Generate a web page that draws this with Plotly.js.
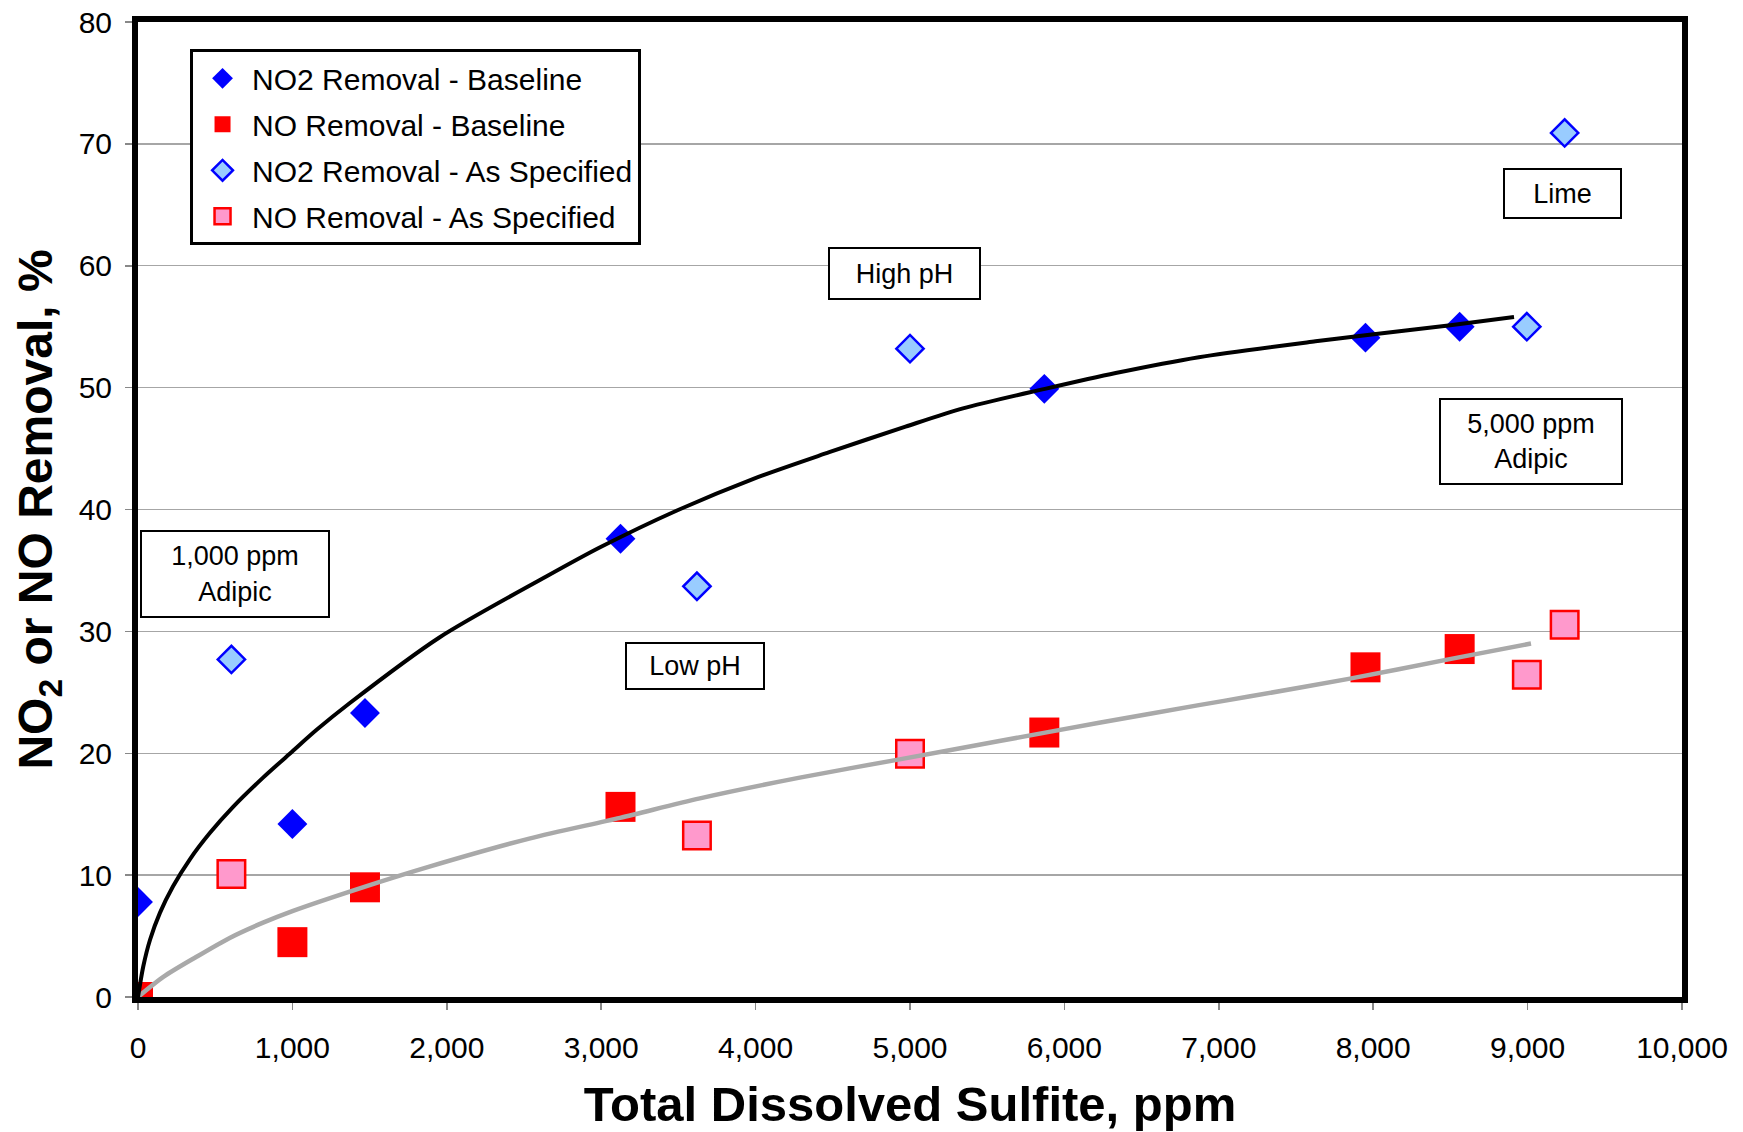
<!DOCTYPE html>
<html>
<head>
<meta charset="utf-8">
<script src="https://cdn.plot.ly/plotly-3.0.1.min.js"></script>
<style>
  html, body { margin: 0; padding: 0; background: #ffffff; }
  #chart { width: 1743px; height: 1132px; }
</style>
</head>
<body>
<div id="chart"></div>
<script>
// ---- Data ----
const baselineX = [0, 1000, 1470, 3125, 5870, 7950, 8560];
const no2BaselineY = [7.8, 14.2, 23.3, 37.6, 49.9, 54.1, 55.0];
const noBaselineY = [0, 4.5, 9.0, 15.6, 21.7, 27.05, 28.55];

const specifiedX = [605, 3620, 5000, 8995, 9240];
const no2SpecifiedY = [27.7, 33.7, 53.2, 55.0, 70.9];
const noSpecifiedY = [10.1, 13.25, 19.95, 26.45, 30.55];

// trend line (NO2, baseline)
const no2TrendX = [0, 34, 78, 142, 228, 336, 465, 616, 810, 1004, 1155, 1370, 1952, 2644, 2993, 3487, 3982, 4477, 4971, 5343, 5874, 6332, 6871, 7626, 7949, 8487, 8912];
const no2TrendY = [0, 2.5, 4.7, 6.9, 9.1, 11.3, 13.45, 15.6, 18.0, 20.2, 21.9, 24.1, 29.5, 34.5, 36.9, 39.9, 42.5, 44.7, 46.8, 48.3, 49.9, 51.2, 52.5, 53.8, 54.3, 55.1, 55.8];

// trend line (NO, baseline)
const noTrendX = [0, 164, 379, 594, 810, 1000, 1456, 1887, 2534, 3122, 3639, 4286, 4932, 5579, 6225, 6871, 7195, 7841, 8487, 9022];
const noTrendY = [0, 1.65, 3.3, 4.85, 6.1, 7.05, 9.0, 10.7, 13.0, 14.7, 16.3, 18.0, 19.5, 21.0, 22.5, 23.95, 24.65, 26.1, 27.7, 29.0];

const seriesNames = ["NO2 Removal - Baseline", "NO Removal - Baseline", "NO2 Removal - As Specified", "NO Removal - As Specified"];

const xTickVals = [0, 1000, 2000, 3000, 4000, 5000, 6000, 7000, 8000, 9000, 10000];
const xTickText = ["0", "1,000", "2,000", "3,000", "4,000", "5,000", "6,000", "7,000", "8,000", "9,000", "10,000"];
const yTickVals = [0, 10, 20, 30, 40, 50, 60, 70, 80];

const boxLabels = ["1,000 ppm<br>Adipic", "Low pH", "High pH", "Lime", "5,000 ppm<br>Adipic"];

// ---- Traces ----
const traces = [
  {
    x: baselineX, y: no2BaselineY, type: "scatter", mode: "markers",
    name: seriesNames[0], legendgroup: "g1",
    marker: { symbol: "diamond", size: 23, color: "#0000ff", line: { width: 0 } }
  },
  {
    x: baselineX, y: noBaselineY, type: "scatter", mode: "markers",
    name: seriesNames[1], legendgroup: "g2",
    marker: { symbol: "square", size: 30, color: "#ff0000", line: { width: 0 } }
  },
  {
    x: specifiedX, y: no2SpecifiedY, type: "scatter", mode: "markers",
    name: seriesNames[2], legendgroup: "g3",
    marker: { symbol: "diamond", size: 21, color: "#99ccff", line: { width: 2.5, color: "#0000ff" } }
  },
  {
    x: specifiedX, y: noSpecifiedY, type: "scatter", mode: "markers",
    name: seriesNames[3], legendgroup: "g4",
    marker: { symbol: "square", size: 27.5, color: "#ff99cc", line: { width: 2.5, color: "#ff0000" } }
  },
  {
    x: noTrendX, y: noTrendY, type: "scatter", mode: "lines",
    showlegend: false, hoverinfo: "skip",
    line: { color: "#a9a9a9", width: 4.5, shape: "spline", smoothing: 0.8 }
  },
  {
    x: no2TrendX, y: no2TrendY, type: "scatter", mode: "lines",
    showlegend: false, hoverinfo: "skip",
    line: { color: "#000000", width: 4, shape: "spline", smoothing: 0.8 }
  }
];

const boxFont = { family: "Liberation Sans, Arial, sans-serif", size: 27, color: "#000000" };
function box(text, x, y, w, h) {
  return {
    text: text, x: x, y: y, xref: "x", yref: "y",
    showarrow: false, xanchor: "center", yanchor: "middle",
    width: w, height: h, align: "center", valign: "middle",
    bgcolor: "#ffffff", bordercolor: "#000000", borderwidth: 2, borderpad: 0,
    font: boxFont
  };
}

const layout = {
  width: 1743, height: 1132,
  margin: { l: 138, r: 61, t: 22, b: 135, pad: 0 },
  paper_bgcolor: "#ffffff", plot_bgcolor: "#ffffff",
  font: { family: "Liberation Sans, Arial, sans-serif", size: 30, color: "#000000" },
  showlegend: true,
  legend: {
    x: 0.0337, y: 0.972, xanchor: "left", yanchor: "top",
    bgcolor: "#ffffff", bordercolor: "#000000", borderwidth: 3,
    font: { family: "Liberation Sans, Arial, sans-serif", size: 30, color: "#000000" },
    traceorder: "grouped", tracegroupgap: 4, itemwidth: 49
  },
  xaxis: {
    range: [0, 10000], autorange: false,
    tickmode: "array", tickvals: xTickVals, ticktext: xTickText,
    ticks: "outside", ticklen: 7, tickwidth: 1.5, tickcolor: "#888888",
    ticklabelstandoff: 12,
    tickfont: { size: 30 },
    showgrid: false, zeroline: false,
    showline: true, linecolor: "#000000", linewidth: 6, mirror: true,
    title: { text: "Total Dissolved Sulfite, ppm", font: { size: 49, family: "Liberation Sans, Arial, sans-serif", weight: "bold" }, standoff: 26 }
  },
  yaxis: {
    range: [0, 80], autorange: false,
    tickmode: "array", tickvals: yTickVals,
    ticks: "outside", ticklen: 7, tickwidth: 1.5, tickcolor: "#888888",
    ticklabelstandoff: 7,
    tickfont: { size: 30 },
    showgrid: true, gridcolor: "#a6a6a6", gridwidth: 1.3,
    zeroline: false,
    showline: true, linecolor: "#000000", linewidth: 6, mirror: true,
    title: { text: "NO<sub>2</sub> or NO Removal, %", font: { size: 48, family: "Liberation Sans, Arial, sans-serif", weight: "bold" }, standoff: 13 }
  },
  annotations: [
    box(boxLabels[0], 626, 34.7, 186, 84),
    box(boxLabels[1], 3605, 27.15, 136, 44),
    box(boxLabels[2], 4962, 59.4, 149, 49),
    box(boxLabels[3], 9227, 65.9, 115, 47),
    box(boxLabels[4], 9019, 45.6, 180, 83)
  ]
};

Plotly.newPlot("chart", traces, layout, { displayModeBar: false, staticPlot: true });
</script>
</body>
</html>
